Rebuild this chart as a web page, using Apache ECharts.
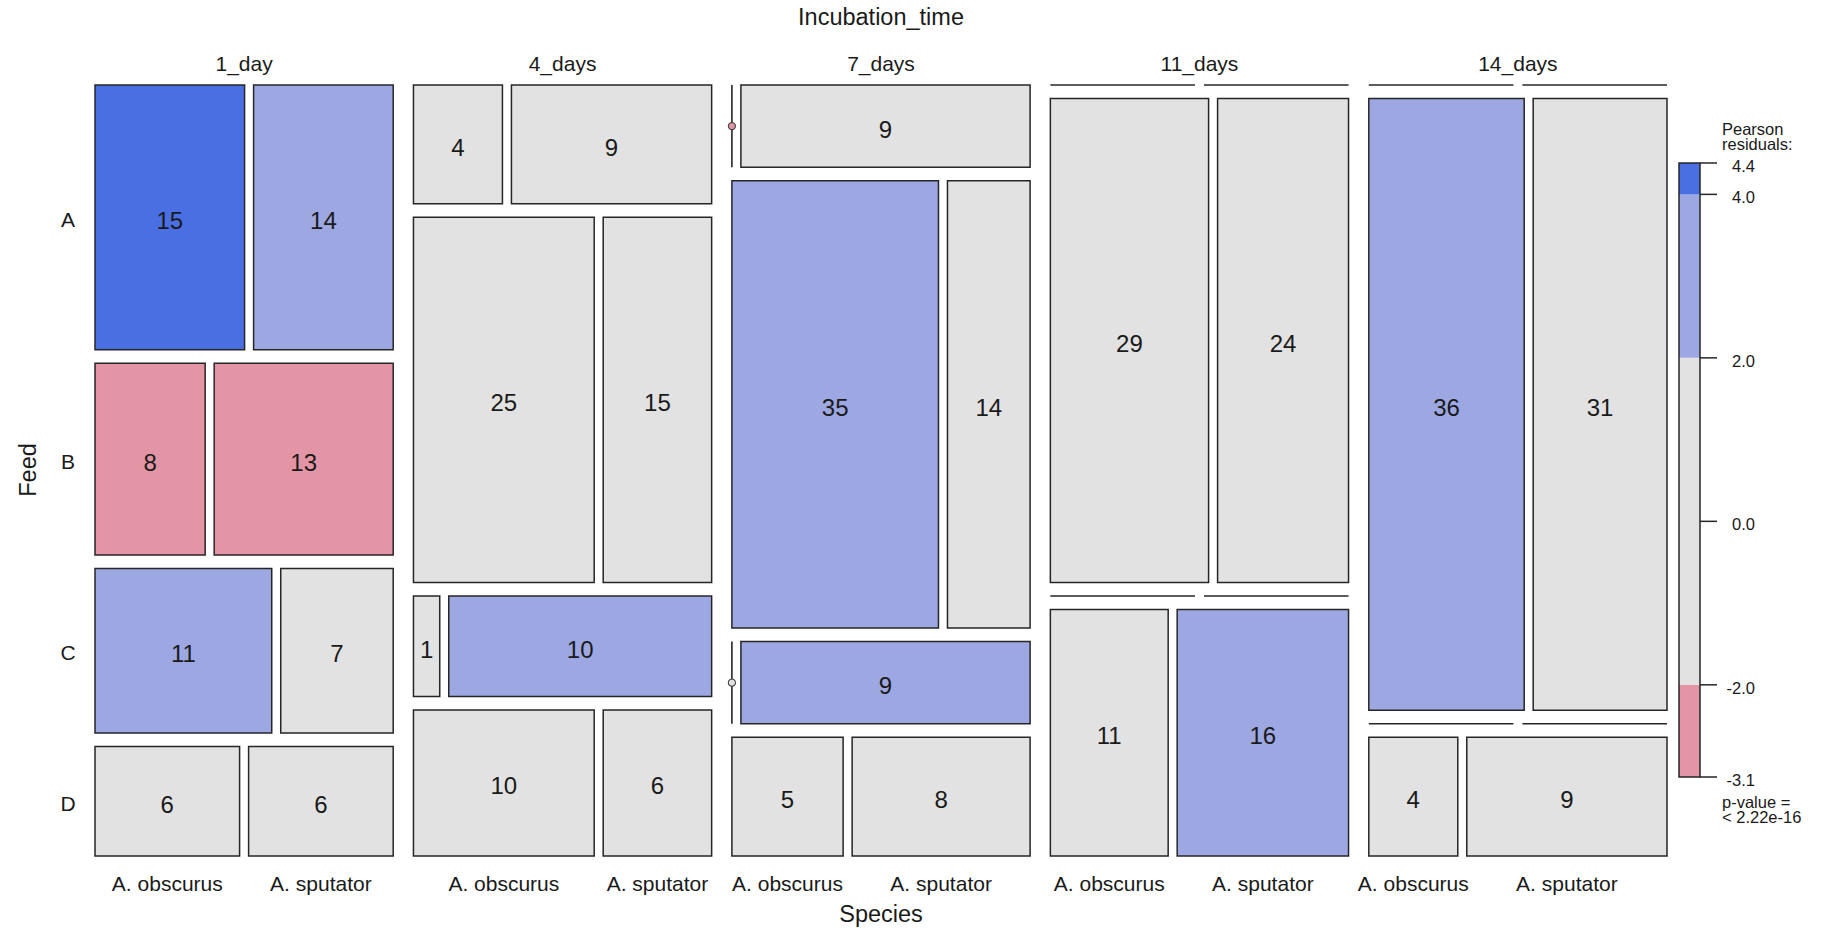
<!DOCTYPE html>
<html>
<head>
<meta charset="utf-8">
<script src="https://cdn.jsdelivr.net/npm/echarts@6/dist/echarts.min.js"></script>
<style>
  html, body { margin: 0; padding: 0; background: #ffffff; }
  #chart { width: 1821px; height: 928px; }
</style>
</head>
<body>
<div id="chart"></div>
<script>
// ---- data ----
const incubationTimes = ['1_day', '4_days', '7_days', '11_days', '14_days'];
const feeds = ['A', 'B', 'C', 'D'];
const speciesNames = ['A. obscurus', 'A. sputator'];
// counts for each incubation time, listed by feed A..D
const obscurusCounts = [[15, 8, 11, 6], [4, 25, 1, 10], [0, 35, 0, 5], [0, 29, 0, 11], [0, 36, 0, 4]];
const sputatorCounts = [[14, 13, 7, 6], [9, 15, 10, 6], [9, 14, 9, 8], [0, 24, 0, 16], [0, 31, 0, 9]];
const legendTitle = ['Pearson', 'residuals:'];
const pValueLines = ['p-value =', '< 2.22e-16'];

// ---- shading ----
const SHADE = { posHigh: '#4A6FE3', posLow: '#9DA8E2', neutral: '#E2E2E2', negLow: '#E495A5', negHigh: '#D33F6A' };
const shadeBins = [
  [-Infinity, -4, SHADE.negHigh],
  [-4, -2, SHADE.negLow],
  [-2, 2, SHADE.neutral],
  [2, 4, SHADE.posLow],
  [4, Infinity, SHADE.posHigh]
];
function shadeFor(r) {
  for (const b of shadeBins) if (r >= b[0] && r < b[1]) return b[2];
  return SHADE.neutral;
}

// ---- table and residuals under mutual independence ----
const counts = incubationTimes.map((_, i) => feeds.map((_, j) => [obscurusCounts[i][j], sputatorCounts[i][j]]));
const timeTot = counts.map(c => c.reduce((s, r) => s + r[0] + r[1], 0));
const feedTot = feeds.map((_, j) => counts.reduce((s, c) => s + c[j][0] + c[j][1], 0));
const spTot = [0, 1].map(k => counts.reduce((s, c) => s + c.reduce((t, r) => t + r[k], 0), 0));
const N = timeTot.reduce((a, b) => a + b, 0);

// ---- mosaic geometry (axis units) ----
const PLOT_W = 1572, PLOT_H = 771;
const GAP_TIME = 20.25, GAP_FEED = 13.5, GAP_SPECIES = 9;
const colW = (PLOT_W - (incubationTimes.length - 1) * GAP_TIME) / incubationTimes.length;
const innerH = PLOT_H - (feeds.length - 1) * GAP_FEED;
const innerW = colW - GAP_SPECIES;

const cells = [];
let rMin = Infinity, rMax = -Infinity;
counts.forEach((col, i) => {
  const x0 = i * (colW + GAP_TIME);
  let y = 0;
  col.forEach((row, j) => {
    const rowTot = row[0] + row[1];
    const h = rowTot / timeTot[i] * innerH;
    let x = x0;
    row.forEach((n, k) => {
      const e = timeTot[i] * feedTot[j] * spTot[k] / N / N;
      const r = (n - e) / Math.sqrt(e);
      rMin = Math.min(rMin, r); rMax = Math.max(rMax, r);
      const w = rowTot > 0 ? n / rowTot * innerW : innerW / 2;
      cells.push({ i, j, k, x, y, w, h, n, r });
      x += w + GAP_SPECIES;
    });
    y += h + GAP_FEED;
  });
});

const FONT = 'Liberation Sans, Arial, Helvetica, sans-serif';
const INK = '#1a1a1a';
const EDGE = '#262626';

function renderCell(params, api) {
  const c = cells[params.dataIndex];
  const p0 = api.coord([c.x, c.y]);
  const p1 = api.coord([c.x + c.w, c.y + c.h]);
  const children = [];
  if (c.h === 0) {
    children.push({ type: 'line', shape: { x1: p0[0], y1: p0[1], x2: p1[0], y2: p0[1] },
      style: { stroke: EDGE, lineWidth: 1.6 } });
  } else if (c.w === 0) {
    const my = (p0[1] + p1[1]) / 2;
    children.push({ type: 'line', shape: { x1: p0[0], y1: p0[1], x2: p0[0], y2: p1[1] },
      style: { stroke: EDGE, lineWidth: 1.6 } });
    children.push({ type: 'circle', shape: { cx: p0[0], cy: my, r: 3.6 },
      style: { fill: shadeFor(c.r), stroke: '#444', lineWidth: 1.1 } });
  } else {
    children.push({ type: 'rect', shape: { x: p0[0], y: p0[1], width: p1[0] - p0[0], height: p1[1] - p0[1] },
      style: { fill: shadeFor(c.r), stroke: EDGE, lineWidth: 1.5 } });
    children.push({ type: 'text', style: { text: String(c.n), x: (p0[0] + p1[0]) / 2, y: (p0[1] + p1[1]) / 2 + 3,
      align: 'center', verticalAlign: 'middle', fontSize: 24, fontFamily: FONT, fill: INK } });
  }
  return { type: 'group', children };
}

// column headings
function renderTimeLabel(params, api) {
  const i = params.dataIndex;
  const x0 = i * (colW + GAP_TIME);
  const p = api.coord([x0 + colW / 2, 0]);
  return { type: 'text', style: { text: incubationTimes[i], x: p[0], y: p[1] - 22, align: 'center',
    verticalAlign: 'middle', fontSize: 21, fontFamily: FONT, fill: INK } };
}

// row labels follow the rows of the first column
function renderFeedLabel(params, api) {
  const j = params.dataIndex;
  const c = cells.find(d => d.i === 0 && d.j === j && d.k === 0);
  const p = api.coord([0, c.y + c.h / 2]);
  return { type: 'text', style: { text: feeds[j], x: p[0] - 27, y: p[1] + 2, align: 'center',
    verticalAlign: 'middle', fontSize: 21, fontFamily: FONT, fill: INK } };
}

// species labels sit under the bottom row of each column
const lastFeed = feeds.length - 1;
const speciesLabelCells = cells.filter(d => d.j === lastFeed);
function renderSpeciesLabel(params, api) {
  const c = speciesLabelCells[params.dataIndex];
  const p = api.coord([c.x + c.w / 2, PLOT_H]);
  return { type: 'text', style: { text: speciesNames[c.k], x: p[0], y: p[1] + 27, align: 'center',
    verticalAlign: 'middle', fontSize: 21, fontFamily: FONT, fill: INK } };
}

// ---- legend scale ----
const legendBins = shadeBins
  .map(b => [Math.max(b[0], rMin), Math.min(b[1], rMax), b[2]])
  .filter(b => b[1] > b[0]);
const legendTicks = [rMax, 4, 2, 0, -2, rMin].filter(v => v <= rMax && v >= rMin);

function renderLegendBin(params, api) {
  const b = legendBins[params.dataIndex];
  const p0 = api.coord([0, b[1]]);
  const p1 = api.coord([1, b[0]]);
  return { type: 'rect', shape: { x: p0[0], y: p0[1], width: p1[0] - p0[0], height: p1[1] - p0[1] },
    style: { fill: b[2] } };
}
function renderLegendFrame(params, api) {
  const p0 = api.coord([0, rMax]);
  const p1 = api.coord([1, rMin]);
  const children = [{ type: 'rect', shape: { x: p0[0], y: p0[1], width: p1[0] - p0[0], height: p1[1] - p0[1] },
    style: { fill: 'none', stroke: EDGE, lineWidth: 1.5 } }];
  legendTicks.forEach(v => {
    const y = api.coord([1, v])[1];
    children.push({ type: 'line', shape: { x1: p1[0], y1: y, x2: p1[0] + 17, y2: y },
      style: { stroke: EDGE, lineWidth: 1.5 } });
    children.push({ type: 'text', style: { text: v.toFixed(1), x: p1[0] + 55, y: y + 3, align: 'right',
      verticalAlign: 'middle', fontSize: 16.5, fontFamily: FONT, fill: INK } });
  });
  // two-line captions above and below the scale
  children.push({ type: 'text', style: { text: legendTitle.join('\n'), x: p0[0] + 43, y: p0[1] - 12,
    align: 'left', verticalAlign: 'bottom', fontSize: 16.5, lineHeight: 15, fontFamily: FONT, fill: INK } });
  children.push({ type: 'text', style: { text: pValueLines.join('\n'), x: p0[0] + 43, y: p1[1] + 17,
    align: 'left', verticalAlign: 'top', fontSize: 16.5, lineHeight: 15, fontFamily: FONT, fill: INK } });
  return { type: 'group', children };
}

const chart = echarts.init(document.getElementById('chart'), null, { renderer: 'svg' });
chart.setOption({
  animation: false,
  backgroundColor: '#ffffff',
  grid: [
    { left: 95, top: 85, width: PLOT_W, height: PLOT_H },
    { left: 1679, top: 163, width: 21, height: 614 }
  ],
  xAxis: [
    { gridIndex: 0, type: 'value', min: 0, max: PLOT_W, show: false },
    { gridIndex: 1, type: 'value', min: 0, max: 1, show: false }
  ],
  yAxis: [
    { gridIndex: 0, type: 'value', min: 0, max: PLOT_H, inverse: true, show: false },
    { gridIndex: 1, type: 'value', min: rMin, max: rMax, show: false }
  ],
  graphic: [
    { type: 'text', x: 881, y: 17, style: { text: 'Incubation_time', align: 'center', verticalAlign: 'middle',
      fontSize: 23.5, fontFamily: FONT, fill: INK } },
    { type: 'text', x: 881, y: 914, style: { text: 'Species', align: 'center', verticalAlign: 'middle',
      fontSize: 23.5, fontFamily: FONT, fill: INK } },
    { type: 'text', x: 28, y: 470, rotation: Math.PI / 2, style: { text: 'Feed', align: 'center',
      verticalAlign: 'middle', fontSize: 23.5, fontFamily: FONT, fill: INK } }
  ],
  series: [
    { type: 'custom', xAxisIndex: 0, yAxisIndex: 0, renderItem: renderCell,
      data: cells.map(c => [c.x, c.y, c.n]), silent: true },
    { type: 'custom', xAxisIndex: 0, yAxisIndex: 0, renderItem: renderTimeLabel,
      data: incubationTimes.map((t, i) => [i]), silent: true },
    { type: 'custom', xAxisIndex: 0, yAxisIndex: 0, renderItem: renderFeedLabel,
      data: feeds.map((f, j) => [j]), silent: true },
    { type: 'custom', xAxisIndex: 0, yAxisIndex: 0, renderItem: renderSpeciesLabel,
      data: speciesLabelCells.map((c, n) => [n]), silent: true },
    { type: 'custom', xAxisIndex: 1, yAxisIndex: 1, renderItem: renderLegendBin,
      data: legendBins.map(b => [b[0], b[1]]), silent: true },
    { type: 'custom', xAxisIndex: 1, yAxisIndex: 1, renderItem: renderLegendFrame,
      data: [[0]], silent: true }
  ]
});
</script>
</body>
</html>
